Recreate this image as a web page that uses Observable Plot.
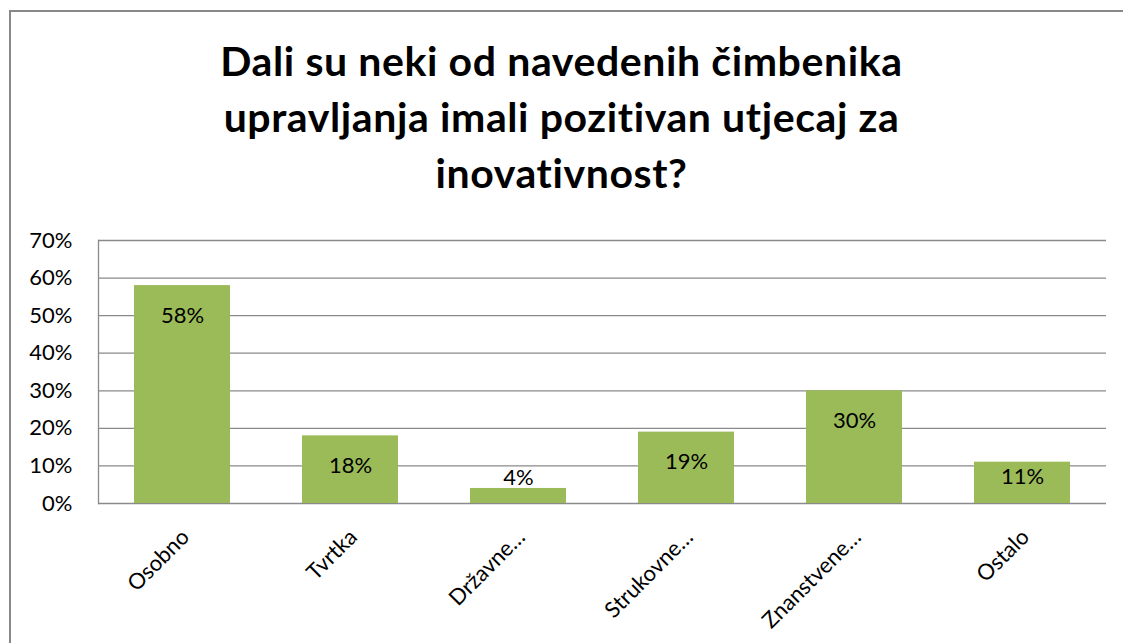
<!DOCTYPE html>
<html>
<head>
<meta charset="utf-8">
<script src="https://cdn.jsdelivr.net/npm/d3@7"></script>
<script src="https://cdn.jsdelivr.net/npm/@observablehq/plot@0.6"></script>
<style>
  html, body { margin: 0; padding: 0; background: #fff; }
  body { width: 1123px; height: 643px; position: relative; overflow: hidden; font-family: Lato, "Open Sans", sans-serif; }
  #frame { position: absolute; left: 9px; top: 10px; width: 1200px; height: 700px; border-left: 2px solid #888; border-top: 2px solid #888; }
  #title { position: absolute; left: 0; top: 33px; width: 1123px; text-align: center; font: bold 41px/56px Lato, sans-serif; letter-spacing: 0.6px; color: #000; margin: 0; }
  #chart { position: absolute; left: 0; top: 200px; }
</style>
</head>
<body>
<div id="frame"></div>
<h1 id="title">Dali su neki od navedenih čimbenika<br>upravljanja imali pozitivan utjecaj za<br>inovativnost?</h1>
<div id="chart"></div>
<script>
const categories = ["Osobno", "Tvrtka", "Državne…", "Strukovne…", "Znanstvene…", "Ostalo"];
const values = [58, 18, 4, 19, 30, 11];
const yTicks = [0, 10, 20, 30, 40, 50, 60, 70];

const data = categories.map((c, i) => ({category: c, value: values[i]}));
const font = "Lato, sans-serif";

const chart = Plot.plot({
  width: 1123,
  height: 443,
  marginLeft: 98,
  marginRight: 17,
  marginTop: 40,
  marginBottom: 140,
  style: {fontFamily: font, fontSize: "22px", color: "#000", background: "transparent"},
  x: {domain: categories, padding: 0, axis: null},
  y: {domain: [0, 70], ticks: yTicks, axis: null},
  marks: [
    Plot.ruleY(yTicks, {stroke: "#8a8a8a", strokeWidth: 1.3}),
    Plot.frame({anchor: "left", stroke: "#8a8a8a", strokeWidth: 1.3}),
    Plot.axisY({ticks: yTicks, tickSize: 0, tickPadding: 26, tickFormat: d => d + "%", fontSize: 22, fill: "#000", label: null}),
    Plot.barY(data, {x: "category", y: "value", fill: "#9BBB59", insetLeft: 36, insetRight: 36}),
    Plot.text(data.filter(d => d.value >= 15), {x: "category", y: "value", text: d => d.value + "%", dy: 30, lineAnchor: "middle", fill: "#000", fontSize: 22}),
    Plot.text(data.filter(d => d.value >= 6 && d.value < 15), {x: "category", y: "value", text: d => d.value + "%", dy: 15, lineAnchor: "middle", fill: "#000", fontSize: 22}),
    Plot.text(data.filter(d => d.value < 6), {x: "category", y: "value", text: d => d.value + "%", dy: -11, lineAnchor: "middle", fill: "#000", fontSize: 22}),
    Plot.text(data, {x: "category", frameAnchor: "bottom", text: "category", rotate: -45, textAnchor: "end", lineAnchor: "middle", dx: 3, dy: 30, fill: "#000", fontSize: 22})
  ]
});
document.getElementById("chart").appendChild(chart);
</script>
</body>
</html>
